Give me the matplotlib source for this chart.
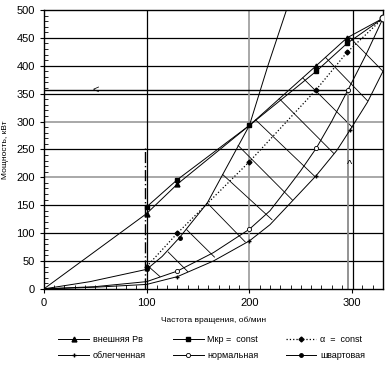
import matplotlib
matplotlib.use('Agg')
import matplotlib.pyplot as plt
from matplotlib.lines import Line2D

plt.rcParams['font.family'] = ['Liberation Sans', 'DejaVu Sans']

# внешняя характеристика (треугольники)
n_ext = [0, 100, 130, 200, 265, 295, 330]
p_ext = [0, 135, 188, 293, 400, 450, 485]
# Мкр = const (квадраты)
n_mkr = [100, 130, 200, 265, 295, 330]
p_mkr = [147, 196, 293, 390, 440, 485]
# alpha = const (пунктир)
n_alpha = [100, 130, 200, 265, 295, 330]
p_alpha = [40, 100, 228, 357, 424, 485]
# облегченная
n_light = [0, 50, 100, 130, 165, 200, 220, 242, 265, 285, 298, 315, 330]
p_light = [0, 3, 8, 22, 50, 86, 115, 158, 203, 248, 285, 335, 390]
# нормальная
n_norm = [0, 50, 100, 130, 165, 200, 220, 236, 250, 265, 280, 296, 313, 330]
p_norm = [0, 4, 13, 32, 65, 107, 140, 178, 212, 252, 300, 357, 418, 485]
# швартовая
n_bol = [0, 45, 100, 115, 132, 159, 174, 200, 218, 237]
p_bol = [0, 13, 35, 58, 92, 154, 205, 293, 400, 505]

# штриховка между кривыми: начало (n, P) -> конец (n, P)
rung_n0 = [100, 121, 139, 159, 174, 189, 206, 229, 252, 274, 297]
rung_p0 = [43, 66, 106, 154, 205, 257, 303, 341, 378, 415, 452]
rung_n1 = [113, 140, 166, 196, 222, 242, 264, 282, 300, 315, 330]
rung_p1 = [22, 31, 57, 84, 124, 159, 201, 243, 290, 337, 390]

# режимные линии
n_mode = 296
p_mode = 357
n_dash = 98
p_dash_top = 253

fig = plt.figure(figsize=(3.92, 3.68), dpi=100)
ax = fig.add_axes([0.112, 0.215, 0.865, 0.758])

# сетка
for y in [50, 100, 150, 250, 350, 400, 450]:
    ax.axhline(y, color='black', lw=0.9, zorder=1)
for y in [200, 300]:
    ax.axhline(y, color='#9a9a9a', lw=1.2, zorder=1)
ax.axvline(100, color='black', lw=0.9, zorder=1)
ax.axvline(200, color='#9a9a9a', lw=1.2, zorder=1)
ax.axvline(301, color='black', lw=0.9, zorder=1)

# штриховка
for a, b, c, d in zip(rung_n0, rung_p0, rung_n1, rung_p1):
    ax.plot([a, c], [b, d], color='black', lw=0.6, zorder=2)

ax.plot(n_light, p_light, color='black', lw=0.7, zorder=3,
        marker='+', ms=3, markevery=[3, 5, 8, 10])
ax.plot(n_norm, p_norm, color='black', lw=0.7, zorder=3,
        marker='o', ms=3, mfc='white', mew=0.6, markevery=[3, 5, 9, 11])
ax.plot(n_bol, p_bol, color='black', lw=0.7, zorder=3,
        marker='o', ms=2.5, markevery=[2, 4])
ax.plot(n_alpha, p_alpha, color='black', lw=0.9, ls=':', zorder=3,
        marker='D', ms=2.5, markevery=[0, 1, 2, 3, 4])
ax.plot(n_ext, p_ext, color='black', lw=0.7, zorder=4,
        marker='^', ms=3.5, markevery=[1, 2, 4, 5])
ax.plot(n_mkr, p_mkr, color='black', lw=0.7, zorder=4,
        marker='s', ms=3.5, markevery=[0, 1, 2, 3, 4])
ax.plot([330], [485], marker='o', ms=5, mfc='white', mec='black', mew=0.8, zorder=5)

# режимные линии со стрелками
ax.plot([0, n_mode], [p_mode, p_mode], color='black', lw=1.0, zorder=2)
ax.plot([n_mode, n_mode], [0, p_mode], color='#8a8a8a', lw=1.3, zorder=2)
ax.plot([n_dash, n_dash], [0, p_dash_top], color='black', lw=1.0,
        ls=(0, (8, 2, 1, 2)), zorder=2)
ax.text(50, p_mode, '<', ha='center', va='center', fontsize=8)
ax.text(n_mode + 1, 222, '^', ha='center', va='center', fontsize=8)

ax.set_xlim(0, 330)
ax.set_ylim(0, 500)
ax.set_xticks([0, 100, 200, 300])
ax.set_xticks(range(0, 331, 10), minor=True)
ax.set_yticks(range(0, 501, 50))
ax.set_yticks(range(0, 501, 10), minor=True)
ax.tick_params(which='major', direction='out', length=3, width=0.8, labelsize=8)
ax.tick_params(which='minor', direction='in', length=3, width=0.6)
for s in ax.spines.values():
    s.set_linewidth(1.0)

ax.set_xlabel('Частота вращения, об/мин', fontsize=6, labelpad=6)
ax.set_ylabel('Мощность, кВт', fontsize=6, labelpad=5)

handles = [
    Line2D([], [], color='black', lw=0.7, marker='^', ms=3.5),
    Line2D([], [], color='black', lw=0.7, marker='s', ms=3),
    Line2D([], [], color='black', lw=0.9, ls=':', marker='D', ms=2.5),
    Line2D([], [], color='black', lw=0.7, marker='+', ms=3),
    Line2D([], [], color='black', lw=0.7, marker='o', ms=3, mfc='white', mew=0.6),
    Line2D([], [], color='black', lw=0.7, marker='o', ms=2.5),
]
labels = ['внешняя Рв', 'Мкр =  const', 'α  =  const',
          'облегченная', 'нормальная', 'швартовая']
order = [0, 3, 1, 4, 2, 5]
fig.legend([handles[i] for i in order], [labels[i] for i in order],
           ncol=3, loc='center', bbox_to_anchor=(0.54, 0.055),
           frameon=False, fontsize=6.5, handlelength=3.4,
           columnspacing=3.0, handletextpad=0.4, labelspacing=0.8)

fig.savefig('out.png', dpi=100)
